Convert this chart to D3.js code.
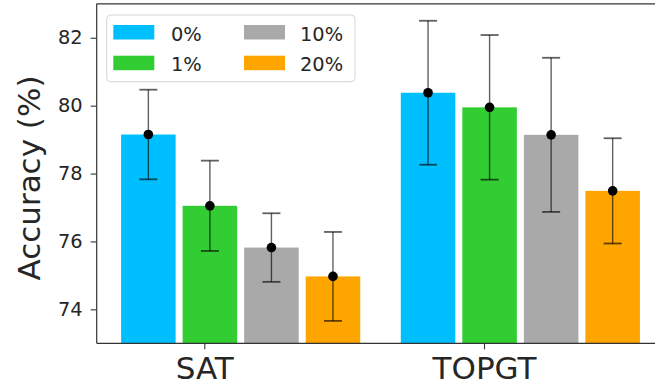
<!DOCTYPE html>
<html><head><meta charset="utf-8">
<script src="https://cdn.jsdelivr.net/npm/d3@7"></script>
<style>html,body{margin:0;padding:0;background:#fff;} svg{display:block;font-family:"DejaVu Sans",sans-serif;}</style>
</head><body>
<script>
const categories = ["SAT", "TOPGT"];
const seriesNames = ["0%", "1%", "10%", "20%"];
const seriesColors = ["#00BFFF", "#32CD32", "#A9A9A9", "#FFA500"];
const meanValues = [
  [79.15, 80.38],
  [77.05, 79.95],
  [75.82, 79.14],
  [74.97, 77.49]
];
const errValues = [
  [1.32, 2.12],
  [1.33, 2.13],
  [1.01, 2.27],
  [1.31, 1.55]
];
const yTicks = [74, 76, 78, 80, 82];

const W = 655, H = 392;
const svg = d3.select("body").append("svg").attr("width", W).attr("height", H);

const pLeft = 96.7, pRight = 665, pTop = 3.8, pBottom = 343.3;
const y = d3.scaleLinear().domain([73, 83]).range([pBottom, pTop]);
const x = d3.scaleLinear().domain([0, 1]).range([204.3, 484]);
const barStep = 0.22, barW = 0.195, barShift = -0.2;

const ink = "#262626";

// bars
seriesNames.forEach((s, i) => {
  const g = svg.append("g");
  categories.forEach((c, j) => {
    const cx = x(j + barShift + i * barStep);
    const w = x(barW) - x(0);
    g.append("rect").attr("x", cx - w / 2).attr("width", w)
      .attr("y", y(meanValues[i][j])).attr("height", y(73) - y(meanValues[i][j]))
      .attr("fill", seriesColors[i]);
  });
});

// error bars
const cap = 9;
seriesNames.forEach((s, i) => {
  categories.forEach((c, j) => {
    const cx = x(j + barShift + i * barStep);
    const m = meanValues[i][j], e = errValues[i][j];
    const g = svg.append("g").attr("stroke", "#000").attr("stroke-opacity", 0.62).attr("stroke-width", 1.4);
    g.append("line").attr("x1", cx).attr("x2", cx).attr("y1", y(m - e)).attr("y2", y(m + e));
    g.append("line").attr("x1", cx - cap).attr("x2", cx + cap).attr("y1", y(m + e)).attr("y2", y(m + e)).attr("stroke-width", 1.8);
    g.append("line").attr("x1", cx - cap).attr("x2", cx + cap).attr("y1", y(m - e)).attr("y2", y(m - e)).attr("stroke-width", 1.8);
    svg.append("circle").attr("cx", cx).attr("cy", y(m)).attr("r", 4.8).attr("fill", "#000");
  });
});

// spines
const spine = "#333";
svg.append("line").attr("x1", pLeft).attr("x2", pLeft).attr("y1", pTop).attr("y2", pBottom).attr("stroke", spine).attr("stroke-width", 1.2);
svg.append("line").attr("x1", pLeft).attr("x2", pRight).attr("y1", pBottom).attr("y2", pBottom).attr("stroke", spine).attr("stroke-width", 1.2);
svg.append("line").attr("x1", pLeft).attr("x2", pRight).attr("y1", pTop).attr("y2", pTop).attr("stroke", spine).attr("stroke-width", 1.2);

// y axis
const yAxis = d3.axisLeft(y).tickValues(yTicks).tickSize(6).tickPadding(8).tickFormat(d3.format("d"));
const ya = svg.append("g").attr("transform", `translate(${pLeft},0)`).call(yAxis);
ya.select(".domain").remove();
ya.selectAll(".tick line").attr("stroke", spine).attr("stroke-width", 1.1);
ya.selectAll(".tick text").attr("fill", ink).style("font-size", "19.4px").style("font-family", "DejaVu Sans");

// x axis
const xAxis = d3.axisBottom(x).tickValues([0, 1]).tickSize(6).tickPadding(8).tickFormat((d) => categories[d]);
const xa = svg.append("g").attr("transform", `translate(0,${pBottom})`).call(xAxis);
xa.select(".domain").remove();
xa.selectAll(".tick line").attr("stroke", spine).attr("stroke-width", 1.1);
xa.selectAll(".tick text").attr("fill", ink).style("font-size", "31px").style("font-family", "DejaVu Sans");

// y label
svg.append("text").attr("transform", `translate(40,178) rotate(-90)`)
  .attr("text-anchor", "middle").attr("fill", ink)
  .style("font-size", "31px").text("Accuracy (%)");

// legend
const lg = svg.append("g");
lg.append("rect").attr("x", 106.7).attr("y", 15).attr("width", 248.3).attr("height", 66.7)
  .attr("rx", 4).attr("fill", "#fff").attr("fill-opacity", 0.8).attr("stroke", "#d6d6d6").attr("stroke-width", 1);
const colX = [113.3, 244];
const textX = [171, 300];
const rowY = [25, 55.7];
seriesNames.forEach((s, i) => {
  const col = Math.floor(i / 2), row = i % 2;
  lg.append("rect").attr("x", colX[col]).attr("y", rowY[row]).attr("width", 41).attr("height", 14.5).attr("fill", seriesColors[i]);
  lg.append("text").attr("x", textX[col]).attr("y", rowY[row] + 15.5).attr("fill", ink)
    .style("font-size", "19.4px").text(s);
});
</script>
</body></html>
